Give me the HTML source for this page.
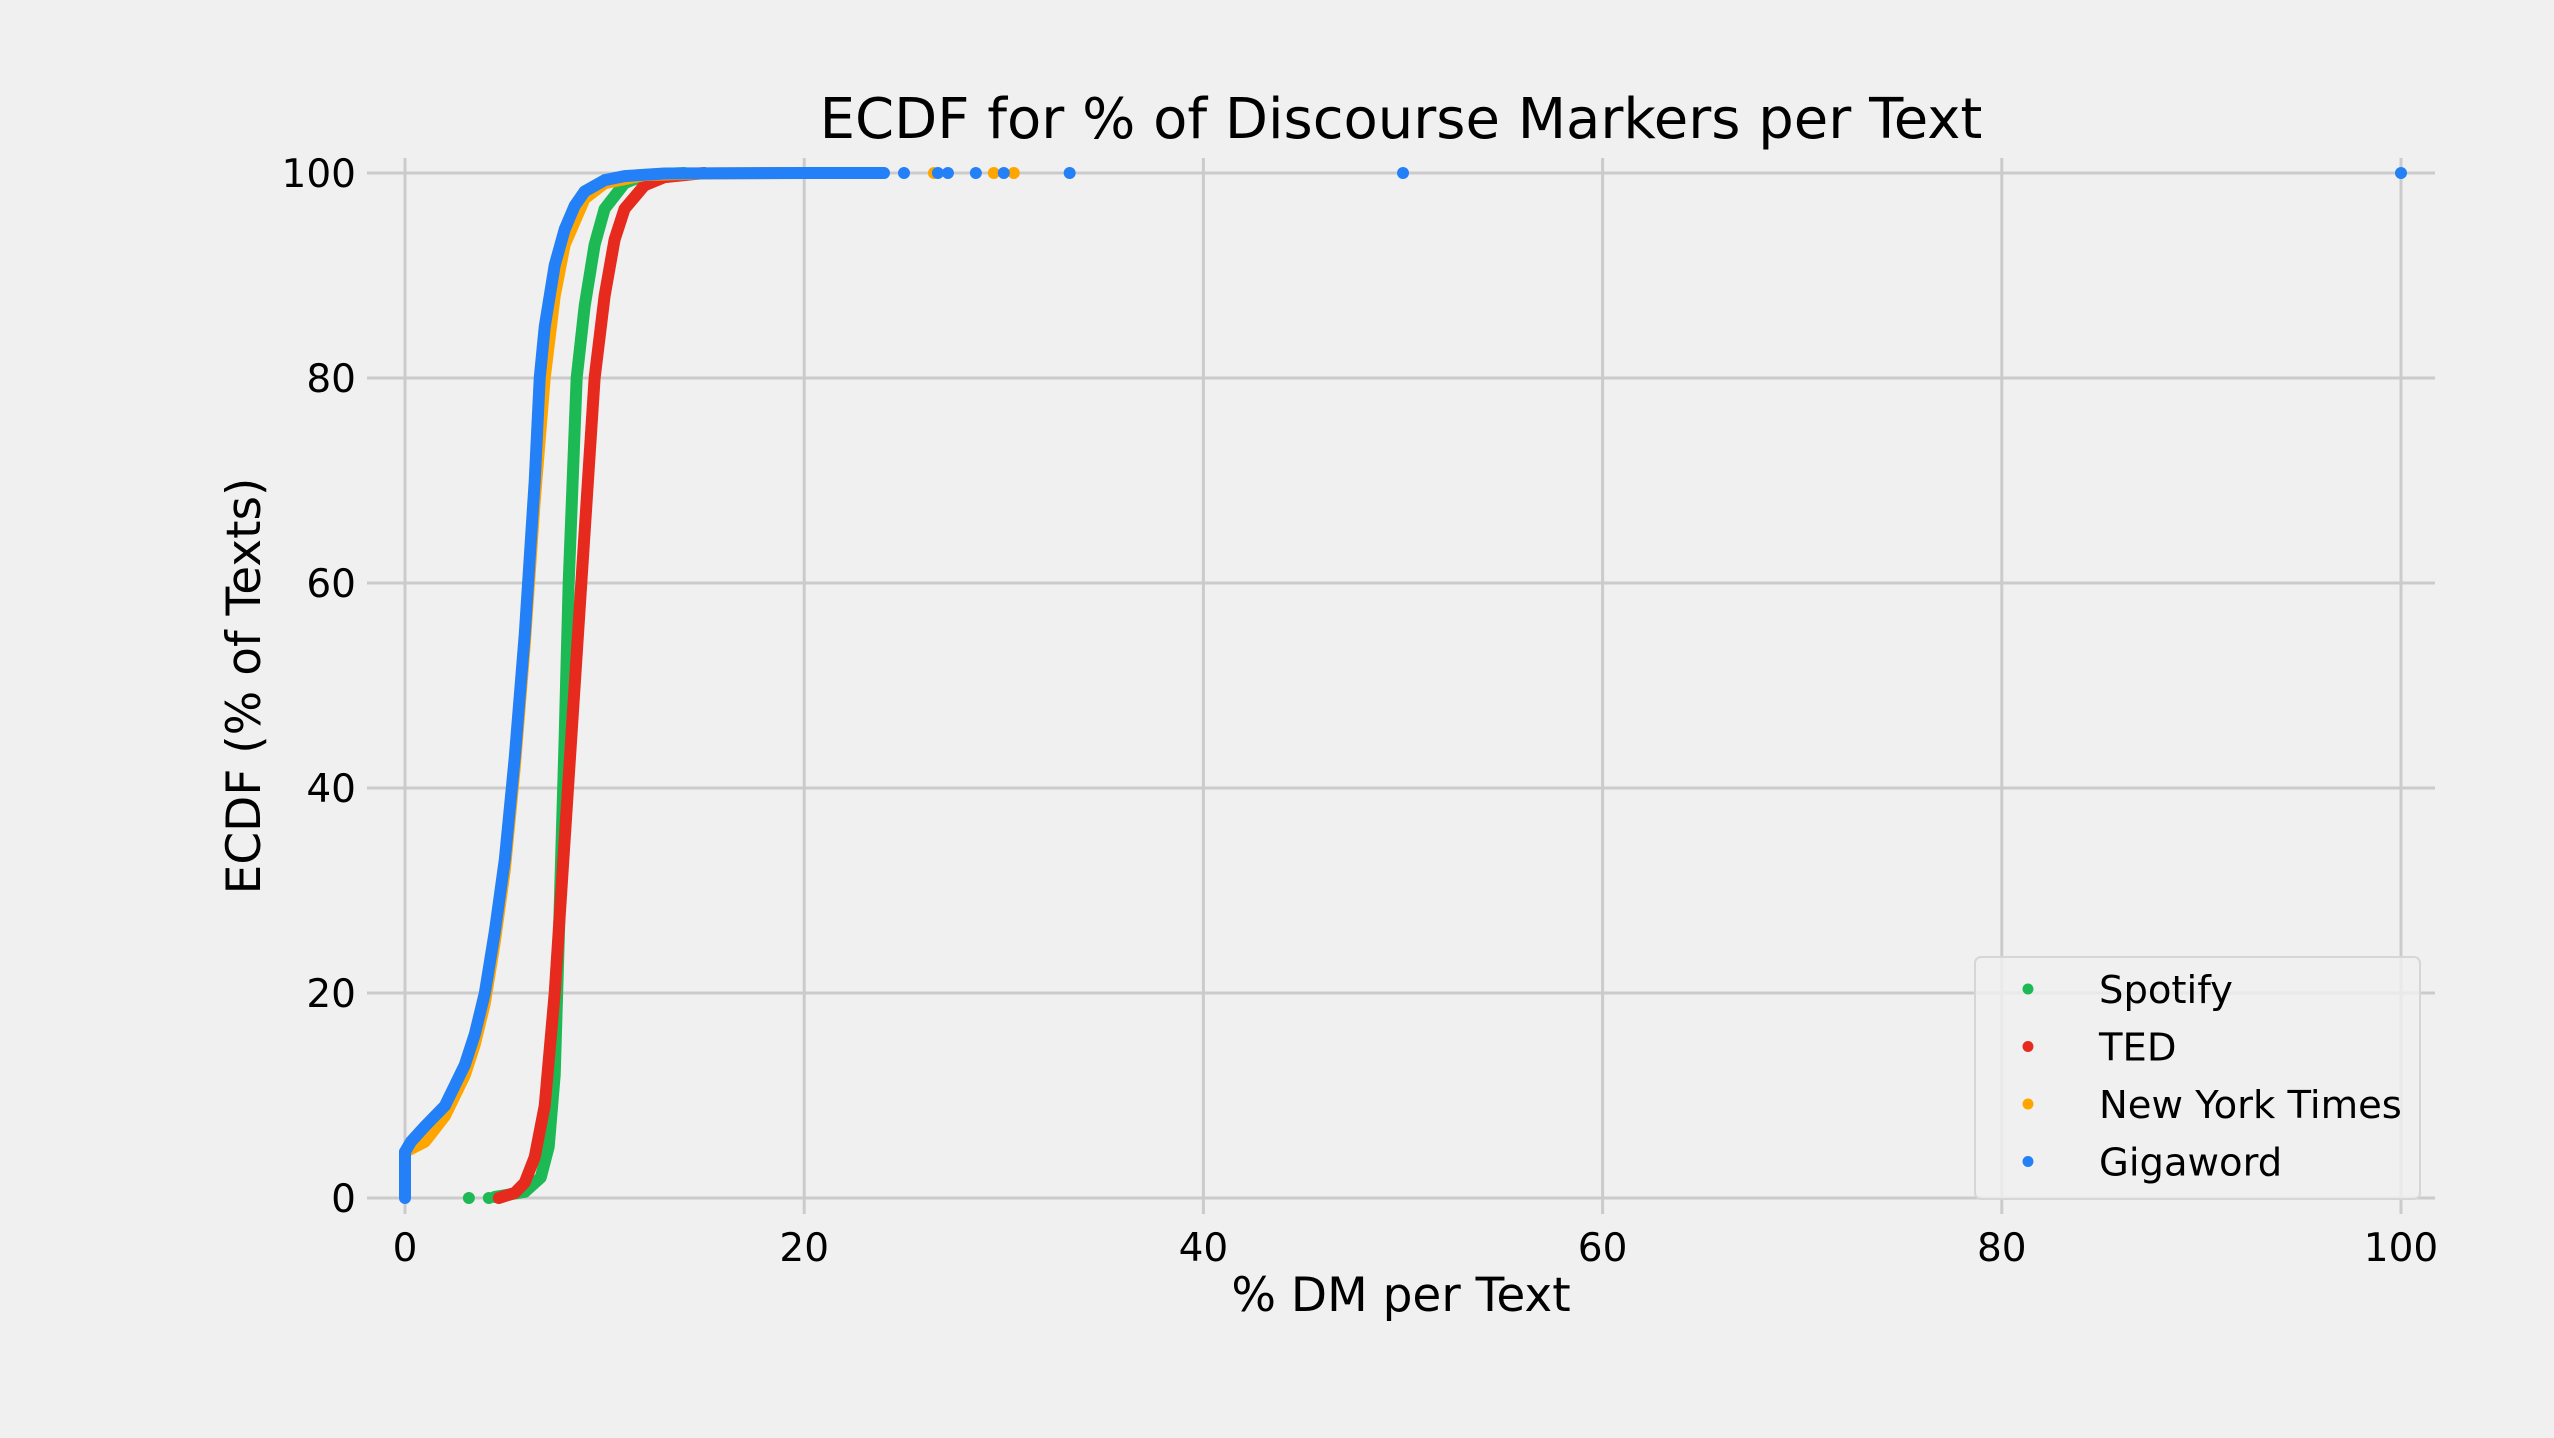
<!DOCTYPE html>
<html><head><meta charset="utf-8"><style>
html,body{margin:0;padding:0;background:#f0f0f0;}
svg{display:block;font-family:"DejaVu Sans","Liberation Sans",sans-serif;}
</style></head><body>
<svg id="chart" width="2554" height="1438" viewBox="0 0 2554 1438" xmlns="http://www.w3.org/2000/svg">
<rect width="2554" height="1438" fill="#f0f0f0"/>
<g id="grid"></g>
<g id="ticks"></g>
<g id="series"></g>
<text x="1401" y="138" text-anchor="middle" font-size="56" fill="#000">ECDF for % of Discourse Markers per Text</text>
<text x="1401" y="1311" text-anchor="middle" font-size="47" fill="#000">% DM per Text</text>
<text transform="translate(260,686) rotate(-90)" text-anchor="middle" font-size="47" fill="#000">ECDF (% of Texts)</text>
<g id="legend"></g>
</svg>
<script>
const xTicks = [0, 20, 40, 60, 80, 100];
const yTicks = [0, 20, 40, 60, 80, 100];
const seriesNames = ["Spotify", "TED", "New York Times", "Gigaword"];
const seriesColors = ["#1db954", "#e62b1e", "#ffa500", "#2380f7"];
const spotifyX = [4.5, 6, 6.8, 7.2, 7.5, 7.7, 8, 8.2, 8.5, 8.6, 9, 9.5, 10, 11, 12, 14];
const spotifyY = [0.1, 0.6, 2, 5, 12, 25, 45, 60, 75, 80, 87, 93, 96.5, 99, 99.8, 100];
const spotifyDotsX = [3.2, 4.2];
const spotifyDotsY = [0, 0];
const tedX = [4.7, 5.5, 6, 6.5, 7, 7.5, 8, 8.5, 9, 9.5, 10, 10.5, 11, 12, 13, 15];
const tedY = [0, 0.5, 1.5, 4, 9, 20, 35, 50, 65, 80, 88, 93.5, 96.5, 98.8, 99.6, 100];
const nytX = [0, 1, 2, 3, 3.5, 4, 4.5, 5, 5.5, 6, 6.5, 7, 7.5, 8, 9, 10, 12, 15, 19];
const nytY = [4.5, 5.5, 8, 12, 15, 19, 25, 32, 42, 54, 68, 80, 88, 93, 97.5, 99, 99.8, 99.95, 100];
const nytDotsX = [26.5, 29.5, 30.5];
const nytDotsY = [100, 100, 100];
const gigaX = [0, 0, 0.3, 1, 2, 3, 3.5, 4, 4.5, 5, 5.5, 6, 6.5, 6.75, 7, 7.5, 8, 8.5, 9, 10, 11, 13, 20, 24];
const gigaY = [0, 4.5, 5.5, 7, 9, 13, 16, 20, 26, 33, 43, 55, 70, 80, 85, 91, 94.5, 96.8, 98.2, 99.3, 99.7, 99.95, 100, 100];
const gigaDotsX = [25, 26.7, 27.2, 28.6, 30, 33.3, 50, 100];
const gigaDotsY = [100, 100, 100, 100, 100, 100, 100, 100];

const X = v => 405 + v * 19.96;
const Y = v => 1198 - v * 10.25;
const NS = "http://www.w3.org/2000/svg";
function mk(tag, parent) { const e = document.createElementNS(NS, tag); parent.appendChild(e); return e; }
const grid = document.getElementById('grid');
const ticks = document.getElementById('ticks');
xTicks.forEach(t => {
  const l = mk('line', grid);
  
  
  l.setAttribute('x1', X(t)); l.setAttribute('x2', X(t)); l.setAttribute('y1', 158); l.setAttribute('y2', 1214);
  l.setAttribute('stroke', '#cbcbcb'); l.setAttribute('stroke-width', 3);
  const tx = mk('text', ticks);
  
  
  tx.setAttribute('x', X(t)); tx.setAttribute('y', 1261); tx.setAttribute('text-anchor', 'middle'); tx.setAttribute('font-size', 39);
  tx.textContent = t;
});
yTicks.forEach(t => {
  const l = mk('line', grid);
  
  
  l.setAttribute('x1', 367); l.setAttribute('x2', 2435); l.setAttribute('y1', Y(t)); l.setAttribute('y2', Y(t));
  l.setAttribute('stroke', '#cbcbcb'); l.setAttribute('stroke-width', 3);
  const tx = mk('text', ticks);
  
  
  tx.setAttribute('x', 356); tx.setAttribute('y', Y(t) + 14); tx.setAttribute('text-anchor', 'end'); tx.setAttribute('font-size', 39);
  tx.textContent = t;
});
const sg = document.getElementById('series');
function curve(xs, ys, color, name) {
  const p = mk('polyline', sg);
  
  
  p.setAttribute('points', xs.map((x, i) => X(x) + ',' + Y(ys[i])).join(' '));
  p.setAttribute('fill', 'none'); p.setAttribute('stroke', color); p.setAttribute('stroke-width', 12);
  p.setAttribute('stroke-linecap', 'round'); p.setAttribute('stroke-linejoin', 'round');
}
function dots(xs, ys, color, name) {
  xs.forEach((x, i) => {
    const c = mk('circle', sg);
    
    
    c.setAttribute('cx', X(x)); c.setAttribute('cy', Y(ys[i])); c.setAttribute('r', 6); c.setAttribute('fill', color);
  });
}
curve(spotifyX, spotifyY, seriesColors[0], 'spotify'); dots(spotifyDotsX, spotifyDotsY, seriesColors[0], 'spotify');
curve(tedX, tedY, seriesColors[1], 'ted');
curve(nytX, nytY, seriesColors[2], 'nyt'); dots(nytDotsX, nytDotsY, seriesColors[2], 'nyt');
curve(gigaX, gigaY, seriesColors[3], 'gigaword'); dots(gigaDotsX, gigaDotsY, seriesColors[3], 'gigaword');

const lg = document.getElementById('legend');
const box = mk('rect', lg);


box.setAttribute('x', 1975); box.setAttribute('y', 957); box.setAttribute('width', 445); box.setAttribute('height', 242);
box.setAttribute('rx', 6); box.setAttribute('fill', '#f0f0f0'); box.setAttribute('fill-opacity', 0.8);
box.setAttribute('stroke', '#d6d6d6'); box.setAttribute('stroke-width', 2);
seriesNames.forEach((n, i) => {
  const yy = 989 + i * 57.5;
  const c = mk('circle', lg);
  
  
  c.setAttribute('cx', 2028); c.setAttribute('cy', yy); c.setAttribute('r', 5.5); c.setAttribute('fill', seriesColors[i]);
  const t = mk('text', lg);
  
  
  t.setAttribute('x', 2099); t.setAttribute('y', yy + 14); t.setAttribute('font-size', 38.5);
  t.textContent = n;
});
</script>
</body></html>
